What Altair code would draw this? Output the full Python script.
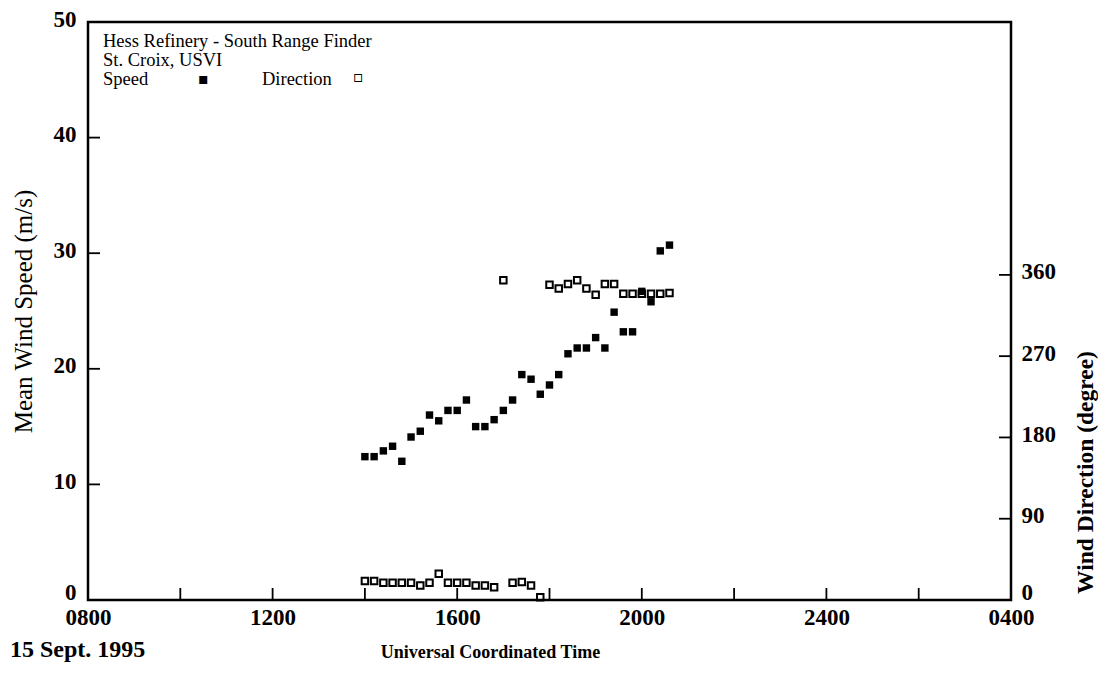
import altair as alt
import pandas as pd

# ---- data (UTC hours on 15 Sept 1995; 24+ = next day) ----
hours = [14.0, 14.2, 14.4, 14.6, 14.8, 15.0, 15.2, 15.4, 15.6, 15.8,
         16.0, 16.2, 16.4, 16.6, 16.8, 17.0, 17.2, 17.4, 17.6, 17.8,
         18.0, 18.2, 18.4, 18.6, 18.8, 19.0, 19.2, 19.4, 19.6, 19.8,
         20.0, 20.2, 20.4, 20.6]
speed = [12.4, 12.4, 12.9, 13.3, 12.0, 14.1, 14.6, 16.0, 15.5, 16.4,
         16.4, 17.3, 15.0, 15.0, 15.6, 16.4, 17.3, 19.5, 19.1, 17.8,
         18.6, 19.5, 21.3, 21.8, 21.8, 22.7, 21.8, 24.9, 23.2, 23.2,
         26.7, 25.8, 30.2, 30.7]
direction = [21, 21, 19, 19, 19, 19, 16, 19, 29, 19,
             19, 19, 16, 16, 14, 354, 19, 20, 16, 3,
             349, 345, 350, 354, 345, 338, 350, 350, 339, 339,
             339, 339, 339, 340]

x_label_hours = [8, 12, 16, 20, 24, 28]
x_label_text = ["0800", "1200", "1600", "2000", "2400", "0400"]
x_tick_hours = [10, 12, 14, 16, 18, 20, 22, 24, 26]
speed_labels = [0, 10, 20, 30, 40, 50]
speed_ticks = [10, 20, 30, 40]
dir_labels = [0, 90, 180, 270, 360]
dir_ticks = [90, 180, 270, 360]

W, H = 923, 578
FONT = "Liberation Serif"
LBL = 23

df = pd.DataFrame({"hour": hours, "speed": speed, "direction": direction})

label_expr = "".join(
    f"datum.value == {h} ? '{t}' : " for h, t in zip(x_label_hours, x_label_text)
) + "''"

x_scale = alt.Scale(domain=[8, 28], nice=False, zero=False)
speed_scale = alt.Scale(domain=[0, 50], nice=False)
dir_scale = alt.Scale(domain=[0, 640], nice=False)

y_label_offset = {"condition": {"test": "datum.value == 0", "value": -8},
                  "value": -3}

x_enc = alt.X(
    "hour:Q", scale=x_scale,
    axis=alt.Axis(values=x_label_hours, labelExpr=label_expr, ticks=False,
                  domain=False, grid=False, labelFont=FONT, labelFontSize=LBL,
                  labelFontWeight="bold", labelColor="black", labelPadding=6,
                  labelFlush=False,
                  title="Universal Coordinated Time", titleFont=FONT,
                  titleFontSize=18, titleFontWeight="bold", titleColor="black",
                  titleX=402, titleY=57, titleBaseline="alphabetic",
                  titleAlign="center"))

speed_pts = alt.Chart(df).mark_point(
    shape="square", filled=True, size=55, color="black", opacity=1
).encode(
    x=x_enc,
    y=alt.Y("speed:Q", scale=speed_scale,
            axis=alt.Axis(values=speed_labels, ticks=False, domain=False,
                          grid=False, labelFont=FONT, labelFontSize=LBL,
                          labelFontWeight="bold", labelColor="black",
                          labelPadding=12, labelOffset=y_label_offset,
                          title="Mean Wind Speed (m/s)",
                          titleFont=FONT, titleFontSize=25,
                          titleFontWeight="normal", titleColor="black",
                          titlePadding=17)),
)

dir_pts = alt.Chart(df).mark_point(
    shape="square", filled=False, size=42, color="black", strokeWidth=2,
    opacity=1
).encode(
    x=alt.X("hour:Q", scale=x_scale),
    y=alt.Y("direction:Q", scale=dir_scale,
            axis=alt.Axis(orient="right", values=dir_labels, ticks=False,
                          domain=False, grid=False, labelFont=FONT,
                          labelFontSize=LBL, labelFontWeight="bold",
                          labelColor="black", labelPadding=10,
                          labelOffset=y_label_offset,
                          title="Wind Direction (degree)", titleFont=FONT,
                          titleFontSize=23.5, titleFontWeight="bold",
                          titleColor="black", titleAngle=270, titleX=74,
                          titleY=450, titleAlign="center",
                          titleBaseline="middle")),
)

# inward tick marks
x_ticks = alt.Chart(pd.DataFrame({"hour": x_tick_hours})).mark_rule(
    color="black", strokeWidth=1.8
).encode(x=alt.X("hour:Q", scale=x_scale), y=alt.value(H), y2=alt.value(H - 12))

left_ticks = alt.Chart(pd.DataFrame({"speed": speed_ticks})).mark_rule(
    color="black", strokeWidth=1.8
).encode(y=alt.Y("speed:Q", scale=speed_scale, axis=None),
         x=alt.value(0), x2=alt.value(12))

right_ticks = alt.Chart(pd.DataFrame({"direction": dir_ticks})).mark_rule(
    color="black", strokeWidth=1.8
).encode(y=alt.Y("direction:Q", scale=dir_scale, axis=None),
         x=alt.value(W - 12), x2=alt.value(W))

# in-plot caption / key
def txt(s, x, y, font=FONT, size=18, weight="normal", align="left"):
    return alt.Chart(pd.DataFrame({"t": [s]})).mark_text(
        font=font, fontSize=size, fontWeight=weight, align=align,
        baseline="alphabetic", color="black"
    ).encode(text="t:N", x=alt.value(x), y=alt.value(y))

caption = (
    txt("Hess Refinery - South Range Finder", 15, 25, size=18.5)
    + txt("St. Croix, USVI", 15, 44, size=18.5)
    + txt("Speed", 15, 63, size=18.5)
    + txt("\u25aa", 110, 62, font="DejaVu Sans", size=16)
    + txt("Direction", 174, 63, size=18.5)
    + txt("\u25ab", 265, 60, font="DejaVu Sans", size=16)
    + txt("15 Sept. 1995", -78, 635, size=24, weight="bold")
)

chart = alt.layer(
    x_ticks, left_ticks, right_ticks, speed_pts, dir_pts, caption
).resolve_scale(y="independent").properties(
    width=W, height=H,
    autosize=alt.AutoSizeParams(type="none"),
    padding={"left": 80, "top": 14, "right": 87, "bottom": 66},
    background="white",
).configure_view(stroke="black", strokeWidth=2.5)

chart.save("out.html", embed_options={"renderer": "svg", "actions": False})
